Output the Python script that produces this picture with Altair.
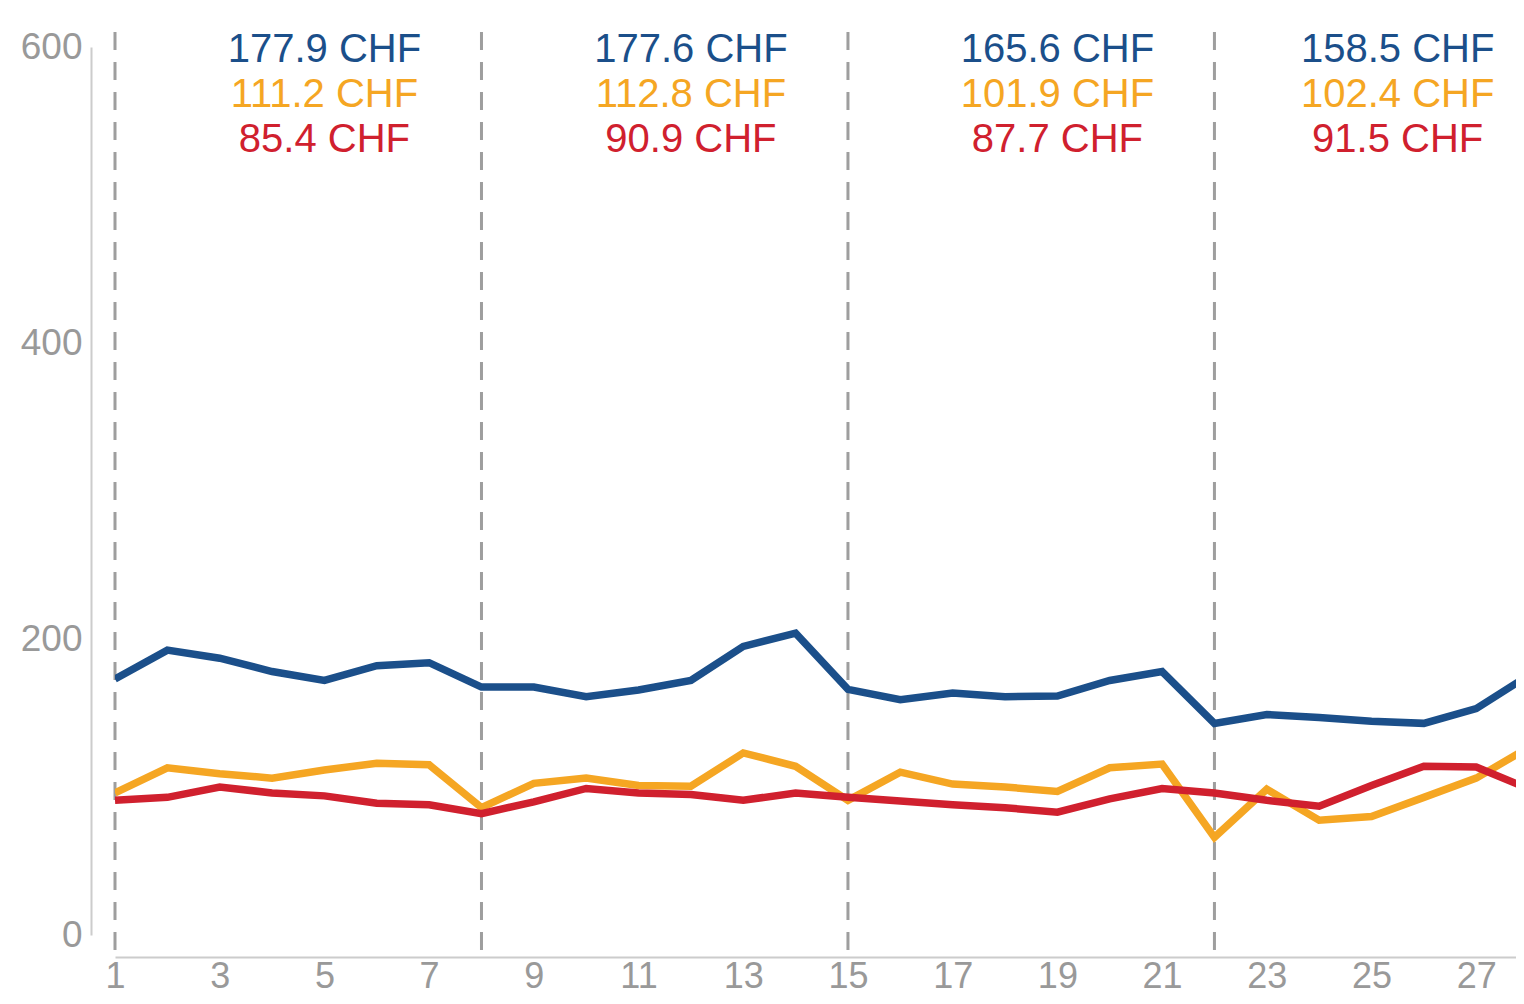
import altair as alt
import pandas as pd

# ---- data ----
days = list(range(1, 29))
blue = [173, 192.5, 187, 178, 172, 182, 184, 167.5, 167.5, 161, 165.5, 172, 195, 204,
        166, 159, 163.5, 161, 161.5, 172, 178, 143, 149, 147, 144.5, 143, 153, 175.4]
orange = [96, 113, 109, 106, 111.5, 116, 115, 86, 102.5, 106, 101, 100.5, 123, 114,
          91, 110, 102, 100, 97, 113, 115.5, 66, 98.5, 77.5, 80, 93, 106, 126.7]
red = [91, 93, 100, 96, 94, 89, 88, 82, 90, 99, 96, 95, 91, 96,
       93, 90.5, 88, 86, 83, 92, 99, 96, 91, 87, 101, 114, 113.5, 98.8]

series_names = ["blue", "orange", "red"]
series_colors = ["#1b4f8a", "#f5a623", "#d0202e"]

week_starts = [1, 8, 15, 22]
label_days = [5, 12, 19, 25.5]
blue_labels = ["177.9 CHF", "177.6 CHF", "165.6 CHF", "158.5 CHF"]
orange_labels = ["111.2 CHF", "112.8 CHF", "101.9 CHF", "102.4 CHF"]
red_labels = ["85.4 CHF", "90.9 CHF", "87.7 CHF", "91.5 CHF"]

y_ticks = [0, 200, 400, 600]
x_ticks = list(range(1, 28, 2))

FONT = "Liberation Sans"

# ---- tables ----
rows = []
for name, vals in zip(series_names, [blue, orange, red]):
    for d, v in zip(days, vals):
        rows.append({"day": d, "value": v, "series": name})
df = pd.DataFrame(rows)

rules_df = pd.DataFrame({"day": week_starts})
lab_df = pd.DataFrame({"day": label_days, "b": blue_labels, "o": orange_labels, "r": red_labels})

x_scale = alt.Scale(domain=[1, 27.76], nice=False, zero=False)
y_scale = alt.Scale(domain=[0, 600], nice=False)

x_axis = alt.Axis(values=x_ticks, offset=22, grid=False, ticks=False, labelFontSize=36,
                  labelColor="#999999", domainColor="#cccccc", domainWidth=2,
                  labelPadding=2, title=None, labelFlush=False, labelFont=FONT,
                  labelAngle=0)
y_axis = alt.Axis(values=y_ticks, offset=24, grid=False, ticks=False, labelFontSize=37,
                  labelColor="#999999", domainColor="#cccccc", domainWidth=2,
                  labelPadding=9, title=None, labelFlush=False, labelFont=FONT)

lines = alt.Chart(df).mark_line(strokeWidth=7.5, clip=True, strokeJoin="miter").encode(
    x=alt.X("day:Q", scale=x_scale, axis=x_axis),
    y=alt.Y("value:Q", scale=y_scale, axis=y_axis),
    color=alt.Color("series:N", scale=alt.Scale(domain=series_names, range=series_colors), legend=None),
    detail="series:N",
)

rules = alt.Chart(rules_df).mark_rule(color="#9e9e9e", strokeWidth=3, strokeDash=[18, 12]).encode(
    x=alt.X("day:Q", scale=x_scale),
    y=alt.value(-15),
    y2=alt.value(910),
)

def text_layer(field, color, ypix):
    return alt.Chart(lab_df).mark_text(
        font=FONT, fontSize=40, color=color, align="center", baseline="alphabetic"
    ).encode(
        x=alt.X("day:Q", scale=x_scale),
        y=alt.value(ypix),
        text=f"{field}:N",
    )

t1 = text_layer("b", series_colors[0], 15)
t2 = text_layer("o", series_colors[1], 60)
t3 = text_layer("r", series_colors[2], 105)

chart = alt.layer(rules, lines, t1, t2, t3).properties(
    width=1401,
    height=888,
    autosize=alt.AutoSizeParams(type="none"),
    padding={"left": 107, "top": 39, "right": 0, "bottom": 60},
).configure_view(stroke=None)

chart.save("out.html", embed_options={"renderer": "svg", "actions": False})
